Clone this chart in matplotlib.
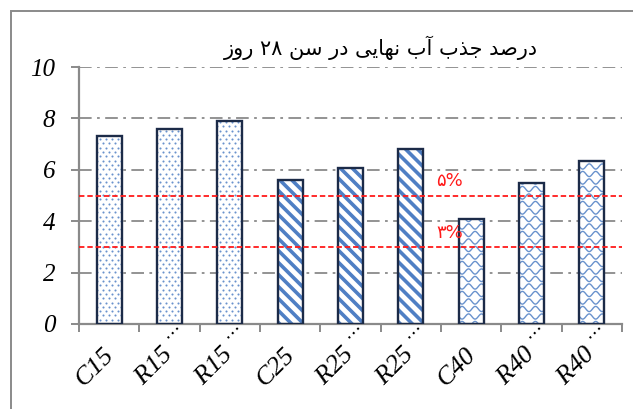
import numpy as np
import matplotlib
matplotlib.use("Agg")
import matplotlib.pyplot as plt
from matplotlib.patches import Rectangle
from matplotlib.collections import LineCollection
from matplotlib.transforms import IdentityTransform, ScaledTranslation

# ---- data -------------------------------------------------------------
categories = ["C15", "R15 $^{\\cdots}$", "R15 $^{\\cdots}$", "C25",
              "R25 $^{\\cdots}$", "R25 $^{\\cdots}$", "C40",
              "R40 $^{\\cdots}$", "R40 $^{\\cdots}$"]
absorption = [7.3, 7.6, 7.9, 5.6, 6.07, 6.8, 4.08, 5.5, 6.35]
textures = ["dots", "dots", "dots", "stripes", "stripes", "stripes",
            "waves", "waves", "waves"]
limit_values = [5, 3]
limit_labels = ["\u06f5%", "\u06f3%"]
title_text = "درصد جذب آب نهایی در سن ۲۸ روز"
yticks = [0, 2, 4, 6, 8, 10]

# ---- simple Persian shaping (presentation forms, visual order) ---------
FORMS = {
    'ا': ('\ufe8d', '\ufe8e', None, None),
    'آ': ('\ufe81', '\ufe82', None, None),
    'ب': ('\ufe8f', '\ufe90', '\ufe91', '\ufe92'),
    'ج': ('\ufe9d', '\ufe9e', '\ufe9f', '\ufea0'),
    'د': ('\ufea9', '\ufeaa', None, None),
    'ذ': ('\ufeab', '\ufeac', None, None),
    'ر': ('\ufead', '\ufeae', None, None),
    'ز': ('\ufeaf', '\ufeb0', None, None),
    'س': ('\ufeb1', '\ufeb2', '\ufeb3', '\ufeb4'),
    'ص': ('\ufeb9', '\ufeba', '\ufebb', '\ufebc'),
    'ن': ('\ufee5', '\ufee6', '\ufee7', '\ufee8'),
    'ه': ('\ufee9', '\ufeea', '\ufeeb', '\ufeec'),
    'و': ('\ufeed', '\ufeee', None, None),
    'ی': ('\ufeef', '\ufef0', '\ufef3', '\ufef4'),
}


def shape_word(word):
    if not any(c in FORMS for c in word):
        return word
    out = []
    for i, ch in enumerate(word):
        f = FORMS.get(ch)
        if f is None:
            out.append(ch)
            continue
        prev = FORMS.get(word[i - 1]) if i > 0 else None
        nxt = FORMS.get(word[i + 1]) if i + 1 < len(word) else None
        jp = prev is not None and prev[2] is not None
        jn = nxt is not None and f[2] is not None
        if jp and jn:
            out.append(f[3])
        elif jn:
            out.append(f[2])
        elif jp:
            out.append(f[1])
        else:
            out.append(f[0])
    return ''.join(reversed(out))


def rtl(text):
    return ' '.join(shape_word(w) for w in reversed(text.split(' ')))


# ---- figure -------------------------------------------------------------
W, H = 633, 409
fig = plt.figure(figsize=(W / 100, H / 100), dpi=100)
ax = fig.add_axes([79 / W, 1 - 324 / H, (622 - 79) / W, (324 - 67) / H])

grey = "#8a8a8a"
navy = "#1c2b48"
blue = "#4f7fc4"

# outer frame of the chart area
fig.patches.append(Rectangle((11 / W, -0.2), 1.2, 1.2 - 11 / H,
                             transform=fig.transFigure, fill=False,
                             edgecolor=grey, linewidth=1.4, zorder=0))

x = np.arange(len(categories))
ax.set_xlim(-0.5, len(categories) - 0.5)
ax.set_ylim(0, 10)

for v in yticks[1:]:
    ax.axhline(v, color=grey, linewidth=1.3, dashes=(7, 3, 1.5, 3), zorder=1)

bars = ax.bar(x, absorption, width=0.41, color="white", edgecolor="none",
              linewidth=0, zorder=2)


def texture(bar, kind):
    bb = bar.get_window_extent()
    x0, y0, x1, y1 = bb.x0, bb.y0, bb.x1, bb.y1
    if kind == "dots":
        pts_x, pts_y = [], []
        for r, yy in enumerate(np.arange(y0, y1 + 5, 4.3)):
            off = 3.0 if r % 2 else 0.0
            for xx in np.arange(x0 - 6 + off, x1 + 6, 6.0):
                pts_x.append(xx)
                pts_y.append(yy)
        ln, = ax.plot(pts_x, pts_y, ls="none", marker="o", markersize=1.5,
                      markeredgewidth=0, color=blue, alpha=0.85,
                      transform=IdentityTransform(), zorder=2.5)
        ln.set_clip_path(bar)
        return
    segs = []
    if kind == "stripes":
        h = y1 - y0
        for c in np.arange(x0 - 10, x1 + h + 12, 12.0):
            segs.append([(c - h - 20, y1 + 20), (c + 20, y0 - 20)])
        lw, alpha = 2.6, 1.0
    else:
        xs = np.linspace(x0 - 8, x1 + 8, 80)
        for r, yy in enumerate(np.arange(y0, y1 + 8, 7.5)):
            ph = np.pi if r % 2 else 0.0
            ys = yy + 2.6 * np.sin(2 * np.pi * (xs - x0) / 13.0 + ph)
            segs.append(np.column_stack([xs, ys]))
        lw, alpha = 1.0, 0.85
    lc = LineCollection(segs, colors=blue, linewidths=lw, alpha=alpha,
                        transform=IdentityTransform(), zorder=2.5)
    ax.add_collection(lc, autolim=False)
    lc.set_clip_path(bar)


for b, k in zip(bars, textures):
    texture(b, k)

ax.bar(x, absorption, width=0.41, fill=False, edgecolor=navy,
       linewidth=1.7, zorder=3)

# reference levels
for v, lab in zip(limit_values, limit_labels):
    ax.axhline(v, color="#ff1a1a", linewidth=1.3, dashes=(3, 1.6), zorder=4)
    ax.text(5.42, v + 0.55, lab, color="#ff1a1a", fontsize=13,
            family=["DejaVu Sans"], ha="left", va="center", zorder=5)

# axes styling
for s in ("top", "right"):
    ax.spines[s].set_visible(False)
for s in ("left", "bottom"):
    ax.spines[s].set_color(grey)
    ax.spines[s].set_linewidth(1.6)

serif = ["Liberation Serif", "DejaVu Sans"]
ax.set_yticks(yticks)
ax.set_yticklabels([str(t) for t in yticks], family=serif,
                   fontstyle="italic", fontsize=18)
ax.tick_params(axis="y", direction="out", length=6, width=1.4, color=grey,
               pad=11)

# category labels run up-right from a start point below-left of each tick
ax.set_xticks(x)
ax.set_xticklabels(categories, family=serif, fontstyle="italic",
                   fontsize=19, rotation=45, ha="left", va="center",
                   rotation_mode="anchor")
ax.tick_params(axis="x", which="major", length=0, pad=42)
shift = ScaledTranslation(-30 / 100, 0, fig.dpi_scale_trans)
for lbl in ax.get_xticklabels():
    lbl.set_transform(lbl.get_transform() + shift)
ax.set_xticks(np.arange(-0.5, len(categories)), minor=True)
ax.tick_params(axis="x", which="minor", direction="out", length=6,
               width=1.4, color=grey)

fig.text(381 / W, 1 - 48 / H, rtl(title_text), ha="center", va="center",
         fontsize=15, family=["DejaVu Sans"])

fig.savefig("out.png", dpi=100)
